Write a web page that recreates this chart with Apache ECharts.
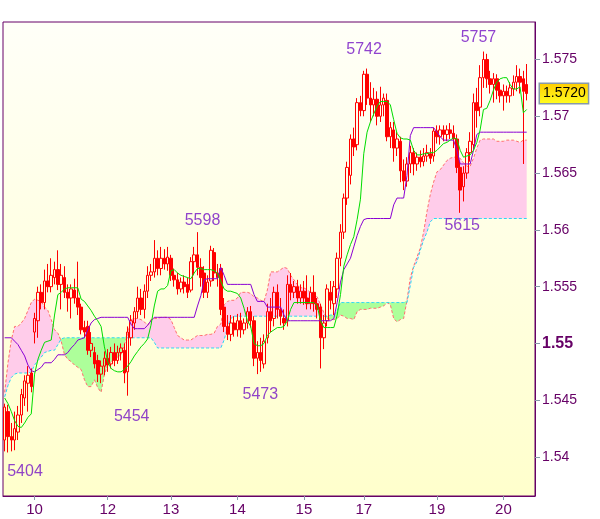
<!DOCTYPE html>
<html><head><meta charset="utf-8">
<script src="https://cdn.jsdelivr.net/npm/echarts@6/dist/echarts.min.js"></script>
<style>html,body{margin:0;padding:0;background:#fff}#c{width:600px;height:519px}</style>
</head><body><div id="c"></div>
<script>
// ---- tick labels ----
const dayLabels = ['10','12','13','14','15','17','19','20'];
const dayIndex  = [9,31,50,70,90,108,130,150];
const slotCount = 160;
const yTicks = [1.54,1.545,1.55,1.555,1.56,1.565,1.57,1.575];
const boldTick = 1.55;
const lastPrice = 1.5720;

// ---- candles ----
const opens = [
1.5415,1.5440,1.5418,1.5415,1.5422,1.5437,1.5452,1.5465,1.5474,1.5510,
1.5520,1.5545,1.5536,1.5555,1.5550,1.5558,1.5565,1.5552,1.5558,1.5545,
1.5540,1.5547,1.5540,1.5532,1.5514,1.5515,1.5494,1.5492,1.5485,1.5473,
1.5480,1.5487,1.5482,1.5492,1.5485,1.5492,1.5494,1.5475,1.5505,1.5518,
1.5528,1.5540,1.5530,1.5546,1.5560,1.5563,1.5575,1.5566,1.5575,1.5570,
1.5575,1.5560,1.5556,1.5548,1.5554,1.5552,1.5547,1.5572,1.5578,1.5567,
1.5562,1.5545,1.5555,1.5580,1.5562,1.5566,1.5532,1.5515,1.5508,1.5518,
1.5512,1.5520,1.5512,1.5518,1.5528,1.5520,1.5487,1.5492,1.5482,1.5505,
1.5528,1.5522,1.5545,1.5530,1.5522,1.5520,1.5552,1.5545,1.5550,1.5540,
1.5546,1.5540,1.5535,1.5545,1.5535,1.5532,1.5505,1.5520,1.5545,1.5535,
1.5548,1.5575,1.5598,1.5628,1.5648,1.5680,1.5675,1.5712,1.5705,1.5737,
1.5716,1.5710,1.5715,1.5700,1.5710,1.5714,1.5682,1.5688,1.5672,1.5678,
1.5652,1.5643,1.5658,1.5668,1.5658,1.5664,1.5660,1.5665,1.5667,1.5665,
1.5687,1.5682,1.5688,1.5684,1.5688,1.5685,1.5680,1.5655,1.5638,1.5650,
1.5668,1.5675,1.5712,1.5708,1.5734,1.5750,1.5733,1.5728,1.5733,1.5723,
1.5718,1.5722,1.5718,1.5724,1.5730,1.5735,1.5733,1.5728];
const closes = [
1.5444,1.5418,1.5415,1.5425,1.5437,1.5455,1.5467,1.5472,1.5462,1.5522,
1.5545,1.5536,1.5555,1.5550,1.5560,1.5565,1.5552,1.5560,1.5545,1.5540,
1.5548,1.5540,1.5532,1.5512,1.5510,1.5494,1.5500,1.5482,1.5473,1.5480,
1.5487,1.5481,1.5492,1.5485,1.5492,1.5496,1.5474,1.5510,1.5520,1.5528,
1.5540,1.5530,1.5546,1.5560,1.5563,1.5575,1.5566,1.5575,1.5570,1.5576,
1.5560,1.5556,1.5548,1.5554,1.5550,1.5545,1.5572,1.5578,1.5567,1.5558,
1.5545,1.5554,1.5582,1.5562,1.5558,1.5530,1.5515,1.5508,1.5518,1.5512,
1.5520,1.5512,1.5518,1.5528,1.5520,1.5487,1.5492,1.5485,1.5502,1.5528,
1.5520,1.5545,1.5530,1.5524,1.5518,1.5552,1.5545,1.5550,1.5540,1.5546,
1.5540,1.5535,1.5545,1.5535,1.5530,1.5505,1.5518,1.5548,1.5538,1.5550,
1.5575,1.5598,1.5628,1.5655,1.5680,1.5673,1.5712,1.5705,1.5737,1.5716,
1.5710,1.5715,1.5700,1.5710,1.5716,1.5682,1.5690,1.5672,1.5680,1.5652,
1.5643,1.5658,1.5668,1.5658,1.5664,1.5660,1.5665,1.5668,1.5663,1.5687,
1.5682,1.5688,1.5684,1.5688,1.5685,1.5680,1.5655,1.5635,1.5650,1.5668,
1.5678,1.5712,1.5705,1.5734,1.5750,1.5733,1.5728,1.5733,1.5723,1.5718,
1.5722,1.5718,1.5725,1.5730,1.5735,1.5730,1.5722,1.5720];
const lows = [
1.5405,1.5404,1.5405,1.5406,1.5415,1.5430,1.5445,1.5440,1.5457,1.5500,
1.5505,1.5530,1.5530,1.5545,1.5545,1.5552,1.5547,1.5530,1.5540,1.5528,
1.5522,1.5535,1.5525,1.5508,1.5505,1.5490,1.5488,1.5478,1.5466,1.5465,
1.5472,1.5475,1.5478,1.5480,1.5482,1.5485,1.5465,1.5454,1.5498,1.5512,
1.5522,1.5525,1.5522,1.5540,1.5555,1.5558,1.5560,1.5560,1.5565,1.5564,
1.5555,1.5550,1.5543,1.5545,1.5544,1.5540,1.5545,1.5560,1.5560,1.5550,
1.5540,1.5540,1.5550,1.5555,1.5550,1.5525,1.5510,1.5503,1.5502,1.5506,
1.5506,1.5505,1.5508,1.5513,1.5514,1.5480,1.5473,1.5475,1.5478,1.5500,
1.5510,1.5515,1.5522,1.5516,1.5512,1.5515,1.5538,1.5540,1.5535,1.5535,
1.5534,1.5530,1.5530,1.5528,1.5522,1.5478,1.5495,1.5515,1.5530,1.5525,
1.5540,1.5568,1.5592,1.5622,1.5640,1.5665,1.5670,1.5700,1.5700,1.5710,
1.5695,1.5700,1.5692,1.5695,1.5700,1.5678,1.5672,1.5660,1.5665,1.5642,
1.5635,1.5638,1.5650,1.5648,1.5652,1.5655,1.5656,1.5660,1.5658,1.5660,
1.5676,1.5675,1.5678,1.5678,1.5680,1.5672,1.5650,1.5615,1.5625,1.5645,
1.5660,1.5670,1.5690,1.5700,1.5725,1.5725,1.5720,1.5712,1.5715,1.5712,
1.5705,1.5712,1.5712,1.5718,1.5722,1.5720,1.5658,1.5714];
const highs = [
1.5447,1.5446,1.5430,1.5440,1.5445,1.5460,1.5472,1.5480,1.5478,1.5527,
1.5550,1.5552,1.5565,1.5570,1.5575,1.5572,1.5582,1.5570,1.5568,1.5552,
1.5552,1.5557,1.5572,1.5535,1.5520,1.5520,1.5510,1.5497,1.5490,1.5485,
1.5493,1.5495,1.5497,1.5500,1.5498,1.5500,1.5500,1.5515,1.5525,1.5532,
1.5550,1.5548,1.5552,1.5568,1.5570,1.5591,1.5582,1.5585,1.5583,1.5585,
1.5578,1.5566,1.5562,1.5558,1.5560,1.5558,1.5576,1.5585,1.5598,1.5575,
1.5568,1.5560,1.5586,1.5584,1.5570,1.5570,1.5540,1.5525,1.5525,1.5524,
1.5526,1.5527,1.5522,1.5532,1.5533,1.5524,1.5502,1.5505,1.5508,1.5535,
1.5540,1.5550,1.5552,1.5540,1.5530,1.5560,1.5562,1.5555,1.5556,1.5552,
1.5555,1.5560,1.5550,1.5560,1.5540,1.5535,1.5525,1.5552,1.5555,1.5555,
1.5580,1.5605,1.5632,1.5660,1.5684,1.5690,1.5716,1.5718,1.5740,1.5742,
1.5730,1.5725,1.5722,1.5726,1.5720,1.5720,1.5695,1.5695,1.5686,1.5682,
1.5662,1.5664,1.5674,1.5672,1.5668,1.5670,1.5672,1.5675,1.5672,1.5690,
1.5692,1.5692,1.5692,1.5692,1.5694,1.5692,1.5684,1.5660,1.5656,1.5672,
1.5686,1.5720,1.5725,1.5745,1.5757,1.5755,1.5740,1.5738,1.5737,1.5730,
1.5728,1.5727,1.5730,1.5736,1.5745,1.5742,1.5740,1.5746];

// ---- indicator lines ----
const tenkan = [
1.5452,1.5447,1.5440,1.5432,1.5427,1.5426,1.5430,1.5435,1.5438,1.5473,
1.5486,1.5494,1.5501,1.5502,1.5503,1.5525,1.5543,1.5545,1.5548,1.5549,
1.5549,1.5549,1.5549,1.5539,1.5537,1.5533,1.5529,1.5524,1.5520,1.5515,
1.5497,1.5484,1.5478,1.5476,1.5475,1.5475,1.5477,1.5480,1.5484,1.5489,
1.5493,1.5497,1.5500,1.5504,1.5516,1.5533,1.5546,1.5548,1.5548,1.5551,
1.5564,1.5565,1.5562,1.5560,1.5559,1.5558,1.5557,1.5562,1.5566,1.5566,
1.5565,1.5565,1.5565,1.5564,1.5562,1.5555,1.5548,1.5546,1.5546,1.5545,
1.5544,1.5540,1.5531,1.5520,1.5515,1.5500,1.5498,1.5498,1.5500,1.5507,
1.5510,1.5512,1.5514,1.5514,1.5515,1.5520,1.5530,1.5536,1.5536,1.5536,
1.5536,1.5536,1.5536,1.5536,1.5533,1.5520,1.5514,1.5514,1.5514,1.5514,
1.5525,1.5543,1.5568,1.5578,1.5587,1.5594,1.5609,1.5627,1.5667,1.5686,
1.5695,1.5702,1.5709,1.5713,1.5713,1.5713,1.5710,1.5697,1.5685,1.5681,
1.5680,1.5680,1.5679,1.5670,1.5666,1.5666,1.5667,1.5667,1.5668,1.5668,
1.5670,1.5673,1.5676,1.5677,1.5679,1.5681,1.5680,1.5670,1.5664,1.5665,
1.5666,1.5670,1.5677,1.5688,1.5706,1.5707,1.5714,1.5723,1.5730,1.5733,
1.5734,1.5734,1.5728,1.5724,1.5724,1.5726,1.5703,1.5706];
const kijun = [
1.5505,1.5505,1.5505,1.5502,1.5499,1.5494,1.5489,1.5481,1.5476,1.5475,
1.5477,1.5479,1.5483,1.5483,1.5483,1.5486,1.5490,1.5490,1.5490,1.5492,
1.5496,1.5499,1.5503,1.5504,1.5505,1.5512,1.5518,1.5521,1.5522,1.5523,
1.5523,1.5523,1.5523,1.5523,1.5523,1.5523,1.5523,1.5523,1.5517,1.5513,
1.5513,1.5513,1.5513,1.5516,1.5520,1.5523,1.5523,1.5523,1.5523,1.5523,
1.5523,1.5523,1.5523,1.5523,1.5523,1.5523,1.5523,1.5523,1.5533,1.5542,
1.5556,1.5557,1.5557,1.5557,1.5557,1.5567,1.5560,1.5552,1.5552,1.5552,
1.5552,1.5552,1.5552,1.5552,1.5552,1.5543,1.5537,1.5537,1.5537,1.5532,
1.5532,1.5532,1.5532,1.5532,1.5525,1.5520,1.5520,1.5520,1.5520,1.5520,
1.5520,1.5520,1.5520,1.5520,1.5520,1.5520,1.5520,1.5520,1.5520,1.5522,
1.5536,1.5554,1.5565,1.5570,1.5575,1.5585,1.5595,1.5603,1.5609,1.5610,
1.5610,1.5610,1.5610,1.5610,1.5610,1.5610,1.5610,1.5622,1.5628,1.5628,
1.5628,1.5648,1.5683,1.5690,1.5690,1.5690,1.5690,1.5690,1.5690,1.5690,
1.5686,1.5682,1.5679,1.5679,1.5679,1.5679,1.5670,1.5658,1.5658,1.5658,
1.5658,1.5670,1.5684,1.5686,1.5686,1.5686,1.5686,1.5686,1.5686,1.5686,
1.5686,1.5686,1.5686,1.5686,1.5686,1.5686,1.5686,1.5686];
const spanA = [
1.5457,1.5483,1.5503,1.5515,1.5515,1.5518,1.5522,1.5529,1.5536,1.5539,
1.5538,1.5537,1.5532,1.5529,1.5521,1.5512,1.5509,1.5502,1.5490,1.5486,
1.5484,1.5481,1.5479,1.5477,1.5468,1.5462,1.5462,1.5468,1.5461,1.5457,
1.5473,1.5481,1.5484,1.5486,1.5488,1.5490,1.5499,1.5508,1.5521,1.5522,
1.5522,1.5521,1.5519,1.5516,1.5521,1.5522,1.5522,1.5523,1.5523,1.5523,
1.5521,1.5514,1.5507,1.5505,1.5503,1.5503,1.5503,1.5505,1.5507,1.5507,
1.5507,1.5508,1.5508,1.5509,1.5515,1.5517,1.5534,1.5537,1.5538,1.5538,
1.5540,1.5545,1.5545,1.5545,1.5544,1.5541,1.5540,1.5538,1.5537,1.5547,
1.5563,1.5563,1.5563,1.5565,1.5567,1.5566,1.5560,1.5556,1.5552,1.5549,
1.5549,1.5547,1.5545,1.5543,1.5541,1.5534,1.5527,1.5522,1.5521,1.5521,
1.5522,1.5525,1.5524,1.5522,1.5522,1.5521,1.5528,1.5530,1.5530,1.5530,
1.5531,1.5531,1.5531,1.5532,1.5533,1.5536,1.5534,1.5522,1.5519,1.5521,
1.5522,1.5538,1.5558,1.5568,1.5576,1.5584,1.5598,1.5616,1.5631,1.5642,
1.5651,1.5653,1.5657,1.5661,1.5663,1.5664,1.5664,1.5663,1.5659,1.5656,
1.5656,1.5663,1.5672,1.5679,1.5680,1.5680,1.5680,1.5680,1.5678,1.5678,
1.5678,1.5679,1.5679,1.5679,1.5678,1.5677,1.5679,1.5679];
const spanB = [
1.5453,1.5463,1.5470,1.5473,1.5474,1.5474,1.5474,1.5474,1.5475,1.5481,
1.5485,1.5488,1.5492,1.5493,1.5494,1.5494,1.5499,1.5504,1.5505,1.5505,
1.5505,1.5505,1.5505,1.5505,1.5505,1.5505,1.5505,1.5505,1.5505,1.5505,
1.5505,1.5505,1.5505,1.5505,1.5505,1.5505,1.5505,1.5505,1.5505,1.5505,
1.5505,1.5505,1.5505,1.5505,1.5505,1.5501,1.5496,1.5496,1.5496,1.5496,
1.5496,1.5496,1.5496,1.5496,1.5496,1.5496,1.5496,1.5496,1.5496,1.5496,
1.5496,1.5496,1.5496,1.5496,1.5496,1.5496,1.5503,1.5514,1.5522,1.5524,
1.5524,1.5524,1.5524,1.5524,1.5524,1.5524,1.5524,1.5524,1.5524,1.5524,
1.5524,1.5524,1.5524,1.5524,1.5524,1.5524,1.5524,1.5524,1.5524,1.5524,
1.5524,1.5524,1.5524,1.5524,1.5524,1.5524,1.5524,1.5524,1.5525,1.5525,
1.5529,1.5536,1.5536,1.5536,1.5536,1.5536,1.5536,1.5536,1.5536,1.5536,
1.5536,1.5536,1.5536,1.5536,1.5536,1.5536,1.5536,1.5536,1.5536,1.5536,
1.5536,1.5536,1.5551,1.5567,1.5572,1.5582,1.5591,1.5598,1.5607,1.5610,
1.5610,1.5610,1.5610,1.5610,1.5610,1.5610,1.5610,1.5610,1.5610,1.5610,
1.5610,1.5610,1.5610,1.5610,1.5610,1.5610,1.5610,1.5610,1.5610,1.5610,
1.5610,1.5610,1.5610,1.5610,1.5610,1.5610,1.5610,1.5610];

// ---- high/low annotations ----
const annIndex = [1,37,58,76,109,137,144];
const annPrice = [1.5404,1.5454,1.5598,1.5473,1.5742,1.5615,1.5757];
const annText  = ['5404','5454','5598','5473','5742','5615','5757'];

// ================= build options =================
const annOffsets = [[17,19],[4,21],[5,-12],[3,20],[-3,-19],[2,13],[-5,-14]];
const categories = [];
for (let i = 0; i < slotCount; i++) {
  const k = dayIndex.indexOf(i);
  categories.push(k >= 0 ? dayLabels[k] : '');
}
const candleData = opens.map((o, i) => [o, closes[i], lows[i], highs[i]]);
const cloudBase  = spanA.map((a, i) => Math.min(a, spanB[i]));
const cloudPink  = spanA.map((a, i) => a > spanB[i] ? a - spanB[i] : 0);
const cloudGreen = spanA.map((a, i) => a < spanB[i] ? spanB[i] - a : 0);
const annData = annIndex.map((x, i) => ({
  value: [x, annPrice[i]],
  label: { formatter: annText[i], offset: annOffsets[i] }
}));

const FONT = 'Liberation Sans, Arial, sans-serif';
const labelShown = (idx, val) => val !== '';
const TRANSPARENT = 'rgba(0,0,0,0)';
const Y_MIN = 1.53657, Y_MAX = 1.5783;

const chart = echarts.init(document.getElementById('c'), null, { renderer: 'canvas' });
chart.setOption({
  animation: false,
  backgroundColor: '#ffffff',
  grid: {
    left: 3, top: 22, right: 65, bottom: 23,
    show: true, borderColor: '#660066', borderWidth: 1,
    backgroundColor: new echarts.graphic.LinearGradient(0, 0, 0, 1, [
      { offset: 0, color: '#fffff8' }, { offset: 1, color: '#ffffcc' }
    ])
  },
  xAxis: {
    type: 'category', data: categories, boundaryGap: true,
    axisLine: { show: true, lineStyle: { color: '#660066', width: 1 } },
    axisTick: { show: true, interval: labelShown, alignWithLabel: true, length: 4,
                lineStyle: { color: '#8899aa' } },
    axisLabel: { interval: labelShown, color: '#660066', fontSize: 15, margin: 6,
                 fontFamily: FONT },
    splitLine: { show: false }
  },
  yAxis: [{
    type: 'value', position: 'right', min: Y_MIN, max: Y_MAX, scale: true,
    axisLine: { show: true, lineStyle: { color: '#660066', width: 1 } },
    axisTick: { show: true, customValues: yTicks, length: 5, lineStyle: { color: '#8899aa' } },
    axisLabel: {
      customValues: yTicks, color: '#660066', fontSize: 14, margin: 7, fontFamily: FONT,
      formatter: v => {
        const s = String(+(+v).toFixed(3));
        return Math.abs(v - boldTick) < 1e-9 ? '{b|' + s + '}' : s;
      },
      rich: { b: { fontWeight: 'bold', fontSize: 16, color: '#660066', fontFamily: FONT } }
    },
    splitLine: { show: false }
  }, {
    type: 'value', position: 'right', min: Y_MIN, max: Y_MAX, scale: true,
    axisLine: { show: false }, axisTick: { show: false }, splitLine: { show: false },
    axisLabel: {
      customValues: [lastPrice], margin: 5, color: '#000', fontSize: 14, fontFamily: FONT,
      formatter: v => (+v).toFixed(4),
      backgroundColor: new echarts.graphic.LinearGradient(0, 0, 0, 1, [
        { offset: 0, color: '#ffcc00' }, { offset: 1, color: '#ffff22' }
      ]),
      borderColor: '#8899aa', borderWidth: 1.5, padding: [3, 2, 2, 3]
    }
  }],
  series: [
    { name: 'base', type: 'line', data: cloudBase, stack: 'cloud', symbol: 'none',
      lineStyle: { opacity: 0 }, z: 1, silent: true },
    { name: 'kumoUp', type: 'line', data: cloudPink, stack: 'cloud', symbol: 'none',
      lineStyle: { opacity: 0 }, areaStyle: { color: '#ffccea', opacity: 1 }, z: 1, silent: true },
    { name: 'kumoDown', type: 'line', data: cloudGreen, stack: 'cloud', symbol: 'none',
      lineStyle: { opacity: 0 }, areaStyle: { color: '#adff9a', opacity: 1 }, z: 1, silent: true },
    { name: 'spanA', type: 'line', data: spanA, symbol: 'none', z: 2,
      lineStyle: { color: '#ff6e6e', width: 1, type: [3, 2] } },
    { name: 'spanB', type: 'line', data: spanB, symbol: 'none', z: 2,
      lineStyle: { color: '#2ad8f5', width: 1, type: [3, 2] } },
    { name: 'price', type: 'candlestick', data: candleData, barWidth: 3, z: 3,
      itemStyle: { color: TRANSPARENT, color0: '#ff0000',
                   borderColor: '#ff0000', borderColor0: '#ff0000', borderWidth: 1 } },
    { name: 'kijun', type: 'line', data: kijun, symbol: 'none', z: 4,
      lineStyle: { color: '#8a00d4', width: 1 } },
    { name: 'tenkan', type: 'line', data: tenkan, symbol: 'none', z: 4,
      lineStyle: { color: '#00dd00', width: 1 } },
    { name: 'annotations', type: 'scatter', data: annData, symbolSize: 1, z: 6,
      itemStyle: { color: TRANSPARENT },
      label: { show: true, position: 'inside', color: '#7414c4', fontSize: 16, fontFamily: FONT } }
  ]
});
</script>
</body></html>
